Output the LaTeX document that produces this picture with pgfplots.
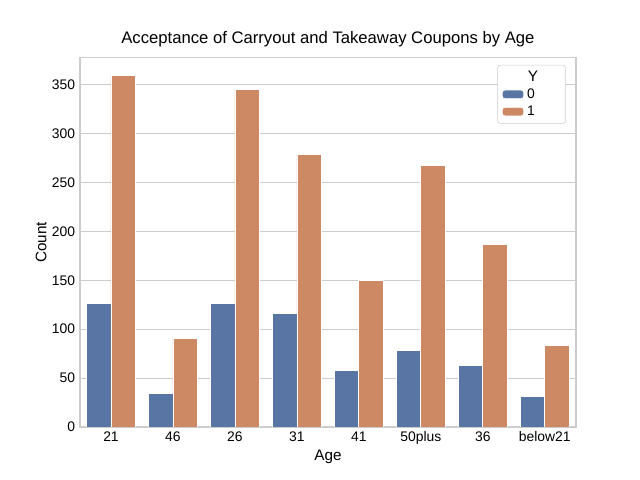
\documentclass[border=0pt]{standalone}
\usepackage{pgfplots}
\pgfplotsset{compat=1.18}
\usepackage{fontspec}
\setmainfont{Liberation Sans}
\definecolor{sbblue}{HTML}{5975A4}
\definecolor{sborange}{HTML}{CC8963}
\definecolor{gridc}{HTML}{CCCCCC}
\begin{document}
\begin{tikzpicture}
\path[use as bounding box] (-57.6pt,-38.2pt) rectangle (403.2pt,307.4pt);
\begin{axis}[
  at={(0,0)}, anchor=south west,
  scale only axis, width=357pt, height=266pt,
  xmin=-0.5, xmax=7.5, ymin=0, ymax=378,
  xtick={0,...,7}, xticklabels={21,46,26,31,41,50plus,36,below21},
  ytick={0,50,...,350},
  ymajorgrids, grid style={gridc, line width=0.8pt},
  axis line style={gridc, line width=1pt},
  major tick length=0pt,
  tick label style={font=\fontsize{10}{12}\selectfont},
  /pgf/number format/assume math mode=true,
  xlabel={Age}, ylabel={Count},
  label style={font=\fontsize{11}{13}\selectfont},
  title={Acceptance of Carryout and Takeaway Coupons by Age},
  title style={font=\fontsize{12}{14}\selectfont, yshift=-2pt},
  xlabel style={yshift=3pt}, ylabel style={yshift=-3pt},
  legend style={at={(0.98,0.98)}, anchor=north east, draw=gridc, rounded corners=2pt,
    font=\fontsize{10}{12}\selectfont, cells={anchor=west}},
  legend image code/.code={\fill[#1] (0cm,-0.1cm) rectangle (0.55cm,0.12cm);},
]
\addlegendimage{empty legend}
\addlegendentry{\hspace{-0.5cm}\makebox[1.3cm][c]{\fontsize{11}{13}\selectfont Y}}
\addplot[ybar, bar width=0.4, bar shift=-0.2, fill=sbblue, draw=white, line width=0.6pt]
  coordinates {(0,126) (1,34) (2,126) (3,116) (4,58) (5,78) (6,63) (7,31)};
\addlegendentry{0}
\addplot[ybar, bar width=0.4, bar shift=0.2, fill=sborange, draw=white, line width=0.6pt]
  coordinates {(0,360) (1,91) (2,345) (3,279) (4,150) (5,268) (6,187) (7,83)};
\addlegendentry{1}
\end{axis}
\end{tikzpicture}
\end{document}
